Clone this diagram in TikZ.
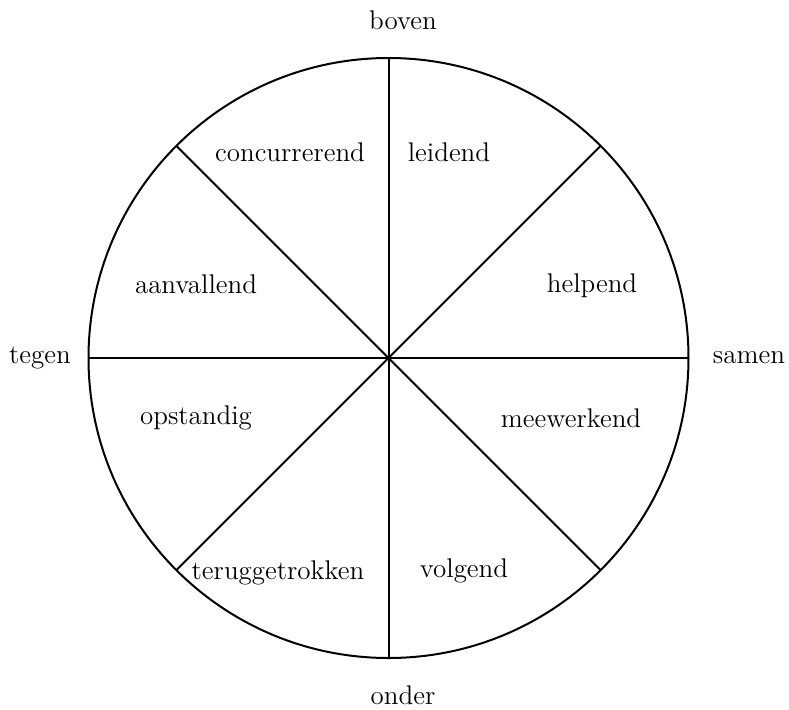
\documentclass[tikz,border=0pt]{standalone}
\usepackage{tikz}

\tikzset{
  wheel/.style={line width=1pt, black},
  sector/.style={font=\fontsize{13.5}{16}\selectfont, inner sep=0pt},
  pole/.style={font=\fontsize{13.5}{16}\selectfont, inner sep=0pt}
}

\begin{document}
\begin{tikzpicture}[x=0.5pt, y=-0.5pt]
  \useasboundingbox (0,0) rectangle (789,709);
  \coordinate (centre) at (388.5,358);

  % circle and spokes
  \draw[wheel] (centre) circle[radius=150pt];
  \foreach \a in {0,45,...,315}
    \draw[wheel] (centre) -- ++(\a:150pt);

  % poles
  \node[pole] (boven) at (403,20) {boven};
  \node[pole] (onder) at (403,695) {onder};
  \node[pole] (tegen) at (40,358) {tegen};
  \node[pole] (samen) at (749,358) {samen};

  % sectors
  \node[sector] (concurrerend) at (290,152) {concurrerend};
  \node[sector] (leidend) at (449,152) {leidend};
  \node[sector] (aanvallend) at (196,284) {aanvallend};
  \node[sector] (helpend) at (592,286) {helpend};
  \node[sector] (opstandig) at (196,418) {opstandig};
  \node[sector] (meewerkend) at (571,418) {meewerkend};
  \node[sector] (teruggetrokken) at (278,573) {teruggetrokken};
  \node[sector] (volgend) at (464,571) {volgend};
\end{tikzpicture}
\end{document}
